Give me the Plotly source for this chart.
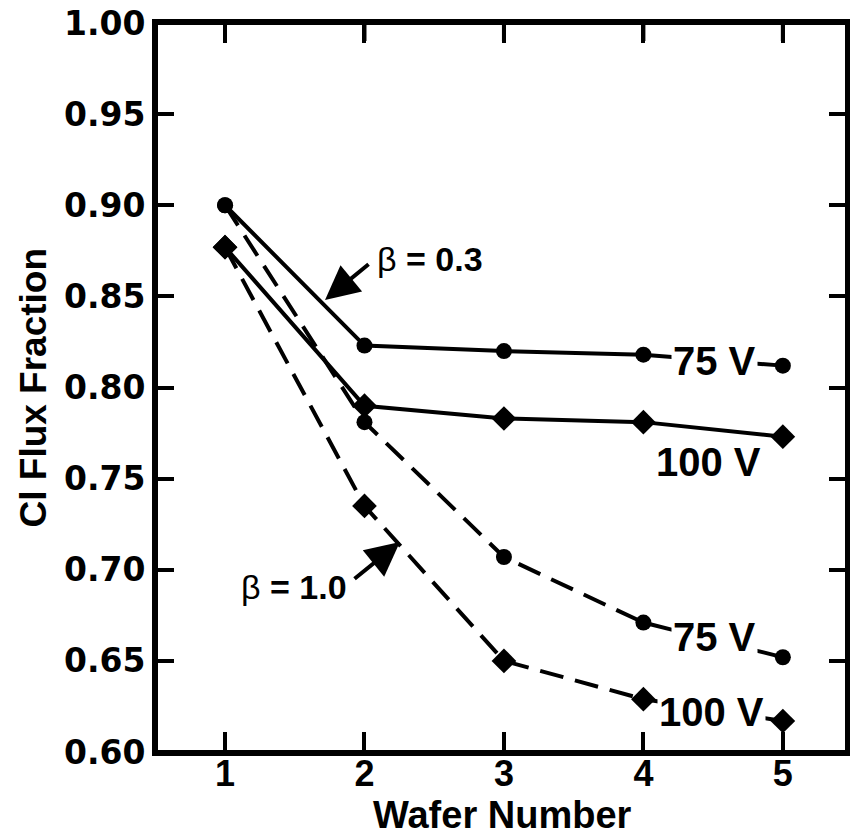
import plotly.graph_objects as go

wafers = [1, 2, 3, 4, 5]
b03_75V = [0.900, 0.823, 0.820, 0.818, 0.812]
b03_100V = [0.877, 0.790, 0.783, 0.781, 0.773]
b10_75V = [0.900, 0.781, 0.707, 0.671, 0.652]
b10_100V = [0.877, 0.735, 0.650, 0.629, 0.617]

y_ticks = [0.60, 0.65, 0.70, 0.75, 0.80, 0.85, 0.90, 0.95, 1.00]
x_ticks = [1, 2, 3, 4, 5]

fig = go.Figure()
series = [
    (b03_75V, "solid", "circle", 16),
    (b03_100V, "solid", "diamond", 19),
    (b10_75V, "24px,12px", "circle", 16),
    (b10_100V, "24px,12px", "diamond", 19),
]
for ys, dash, sym, sz in series:
    fig.add_trace(go.Scatter(
        x=wafers, y=ys, mode="lines+markers",
        line=dict(color="black", width=4, dash=dash),
        marker=dict(symbol=sym, size=sz, color="black"),
        showlegend=False, cliponaxis=False,
    ))

lab_font = dict(family="Liberation Sans", size=40, color="black")
labels = [
    ("<b>75 V</b>", 4.51, 0.8145),
    ("<b>100 V</b>", 4.47, 0.759),
    ("<b>75 V</b>", 4.51, 0.663),
    ("<b>100 V</b>", 4.49, 0.622),
]
for t, x, y in labels:
    fig.add_annotation(x=x, y=y, text=t, showarrow=False, font=lab_font,
                       bgcolor="white", borderpad=1)

beta_font = dict(family="Liberation Sans", size=34, color="black")
fig.add_annotation(x=2.47, y=0.8705, text="β <b>= 0.3</b>", showarrow=False, font=beta_font)
fig.add_annotation(x=1.495, y=0.6905, text="β <b>= 1.0</b>", showarrow=False, font=beta_font)

# arrows
arrows = [
    (1.717, 0.848, 2.04, 0.8683),
    (2.254, 0.7152, 1.918, 0.6944),
]
for x, y, ax, ay in arrows:
    fig.add_annotation(x=x, y=y, ax=ax, ay=ay, xref="x", yref="y", axref="x", ayref="y",
                       text="", showarrow=True, arrowhead=2, arrowsize=1.7,
                       arrowwidth=4, arrowcolor="black")

# axis titles
fig.add_annotation(x=0.502, y=-0.0865, xref="paper", yref="paper", text="<b>Wafer Number</b>",
                   showarrow=False, font=dict(family="Liberation Sans", size=38),
                   xanchor="center", yanchor="middle")
fig.add_annotation(x=-0.178, y=0.5, xref="paper", yref="paper", text="<b>Cl Flux Fraction</b>",
                   showarrow=False, font=dict(family="Liberation Sans", size=37), textangle=-90,
                   xanchor="center", yanchor="middle")

# frame and mirrored top ticks
fig.add_shape(type="rect", xref="paper", yref="paper", x0=0, x1=1, y0=0, y1=1,
              line=dict(color="black", width=4), layer="above")
for v in x_ticks:
    fig.add_shape(type="line", xref="x", yref="paper", x0=v, x1=v, y0=1, y1=1 - 18 / 729,
                  line=dict(color="black", width=4), layer="above")

fig.update_layout(
    template="none",
    width=850, height=837,
    margin=dict(l=156, r=3, t=23, b=85, autoexpand=False),
    plot_bgcolor="white", paper_bgcolor="white",
    font=dict(family="Liberation Sans", color="black"),
)
fig.update_xaxes(
    range=[0.505, 5.46], tickvals=x_ticks, ticktext=["<b>%d</b>" % v for v in x_ticks],
    ticks="inside", ticklen=20, tickwidth=4, tickcolor="black",
    showline=True, linewidth=4, linecolor="black", mirror="ticks",
    showgrid=False, zeroline=False, automargin=False, ticklabeloverflow="allow",
    ticklabelstandoff=-13,
    tickfont=dict(family="Liberation Sans", size=36, color="black"),
)
fig.update_yaxes(
    range=[0.6, 1.0], tickvals=y_ticks, ticktext=["<b>%.2f</b>" % v for v in y_ticks],
    ticks="inside", ticklen=18, tickwidth=4, tickcolor="black",
    showline=True, linewidth=4, linecolor="black", mirror="ticks",
    showgrid=False, zeroline=False, automargin=False, ticklabeloverflow="allow",
    tickfont=dict(family="DejaVu Sans", size=33, color="black"),
)

fig.write_html("out.html", config={"displayModeBar": False},
               post_script="document.body.style.margin='0';")
